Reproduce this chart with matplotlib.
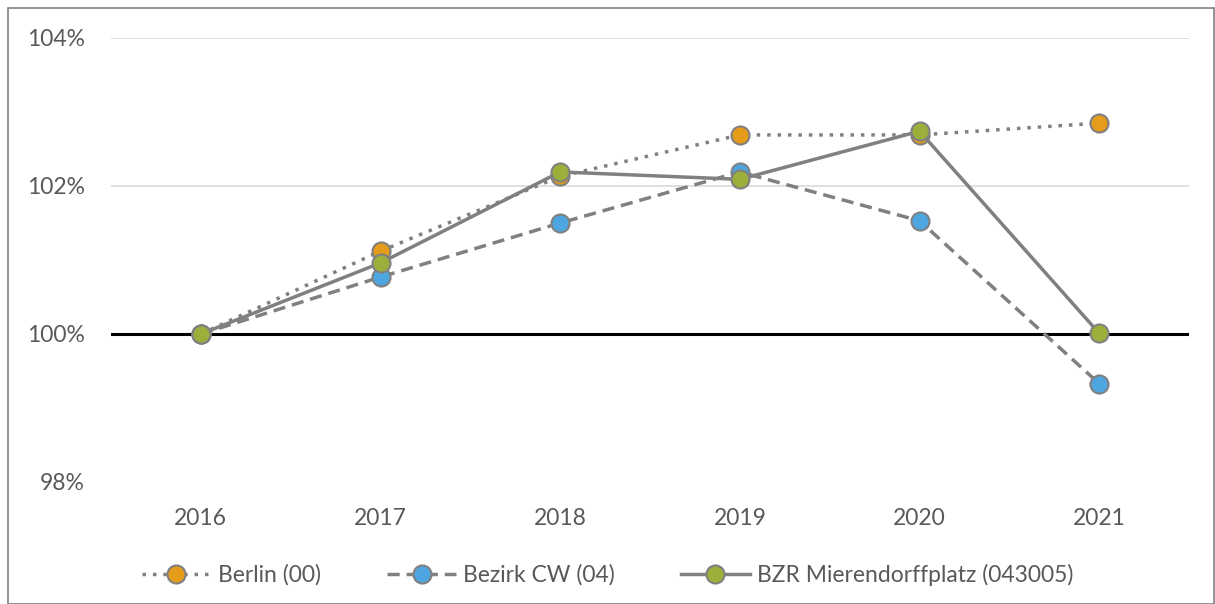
import matplotlib
matplotlib.use("Agg")
import matplotlib.pyplot as plt
from matplotlib.patches import Rectangle

years = ["2016", "2017", "2018", "2019", "2020", "2021"]
berlin = [100.0, 101.12, 102.13, 102.69, 102.69, 102.85]
bezirk = [100.0, 100.77, 101.50, 102.19, 101.53, 99.33]
bzr = [100.0, 100.96, 102.19, 102.09, 102.74, 100.01]
labels = ["Berlin (00)", "Bezirk CW (04)", "BZR Mierendorffplatz (043005)"]
yticks = [98, 100, 102, 104]

plt.rcParams['font.family'] = ['Lato', 'DejaVu Sans']
FS = 16.5

fig = plt.figure(figsize=(12.15, 6.04), dpi=100)
ax = fig.add_axes([111/1215, (604-482)/604, (1189-111)/1215, (482-38)/604])

x = list(range(len(years)))
for yv in [102, 104]:
    ax.axhline(yv, color='#d9d9d9', lw=1.2, zorder=0)
ax.axhline(100, color='black', lw=2.2, zorder=1)

common = dict(color='#808080', lw=2.5, marker='o', markersize=13,
              markeredgecolor='#808080', markeredgewidth=1.5)
ax.plot(x, berlin, linestyle=(0, (1, 2)), markerfacecolor='#E59C1A', label=labels[0], zorder=3, **common)
ax.plot(x, bezirk, linestyle=(0, (3.5, 2)), markerfacecolor='#4EA6E0', label=labels[1], zorder=4, **common)
ax.plot(x, bzr, linestyle='-', markerfacecolor='#9AB03A', label=labels[2], zorder=5, **common)

ax.set_xlim(-0.5, 5.5)
ax.set_ylim(98, 104)
ax.set_xticks(x)
ax.set_xticklabels(years)
ax.set_yticks(yticks)
ax.set_yticklabels([f"{v}%" for v in yticks])
for s in ax.spines.values():
    s.set_visible(False)
ax.tick_params(length=0, labelsize=FS, labelcolor='#595959')
ax.tick_params(axis='y', pad=19)
ax.tick_params(axis='x', pad=19)

fig.legend(loc='center', bbox_to_anchor=(0.5, 1 - 575/604), ncol=3, frameon=False,
           fontsize=FS, labelcolor='#595959', handlelength=3.0, columnspacing=2.9,
           handletextpad=0.3)

fig.patches.append(Rectangle((8/1215, 0), 1 - 8/1215 - 1/1215, 1 - 8/604, transform=fig.transFigure,
                             fill=False, edgecolor='#808080', lw=1.2))

fig.savefig("out.png", dpi=100)
